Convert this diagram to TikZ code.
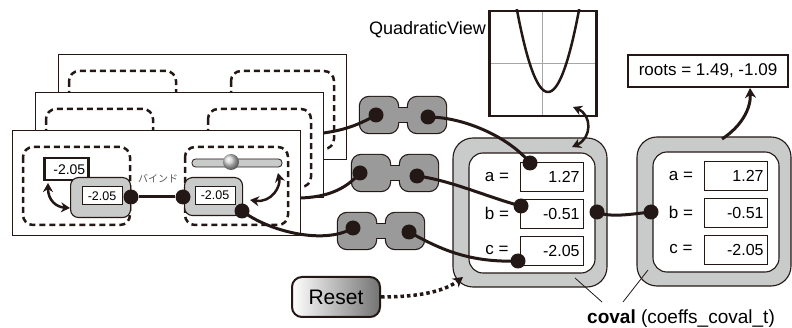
\documentclass[tikz,border=0pt]{standalone}
\usepackage{fontspec}
\setmainfont{Liberation Sans}
\newfontfamily\jpfont{Noto Sans CJK JP}
\usetikzlibrary{arrows.meta}
\definecolor{ink}{HTML}{231815}
\definecolor{widgetgray}{HTML}{C9CACA}
\definecolor{plugray}{HTML}{9A9A9A}
\newcommand{\fsz}[1]{\fontsize{#1}{#1}\selectfont}
\newcommand{\drawpanel}[2]{%
  \draw[panel] (#1,#2) rectangle ++(288,105);
  \draw[dashbox] (#1+11,#2+17) rectangle ++(107,78);
  \draw[dashbox] (#1+173,#2+17) rectangle ++(103,78);
}
\newcommand{\drawcoupler}[2]{%
  \path[draw=ink, line width=2.4pt, rounded corners=9pt] (#1,#2) rectangle ++(38,36) (#1+48,#2) rectangle ++(38,36);
  \path[draw=ink, line width=2.4pt] (#1+30,#2+11) rectangle ++(26,14);
  \path[fill=plugray, rounded corners=9pt] (#1,#2) rectangle ++(38,36) (#1+48,#2) rectangle ++(38,36);
  \path[fill=plugray] (#1+30,#2+11) rectangle ++(26,14);
}
\newcommand{\drawcoval}[3]{%
  \draw[outerbox] (#2,#3) rectangle ++(154,149);
  \draw[innerbox] (#2+16,#3+15) rectangle ++(126,120);
  \node[rowlabel] (#1-al) at (#2+44,#3+39) {a =};
  \node[rowlabel] (#1-bl) at (#2+44,#3+75) {b =};
  \node[rowlabel] (#1-cl) at (#2+44,#3+112) {c =};
  \node[valbox] (#1-av) at (#2+67,#3+24) {1.27};
  \node[valbox] (#1-bv) at (#2+67,#3+61) {-0.51};
  \node[valbox] (#1-cv) at (#2+67,#3+98) {-2.05};
}

\begin{document}
\begin{tikzpicture}[x=1pt, y=-1pt,
  panel/.style={draw=ink, line width=0.9pt, fill=white},
  dashbox/.style={draw=ink, line width=2.5pt, dash pattern=on 6pt off 4pt, rounded corners=10pt},
  outerbox/.style={draw=ink, line width=1.1pt, fill=widgetgray, rounded corners=20pt},
  innerbox/.style={draw=ink, line width=1.1pt, fill=white, rounded corners=14pt},
  rowlabel/.style={font=\fsz{17}, inner sep=0pt},
  valbox/.style={draw=ink, line width=1.1pt, fill=white, anchor=north west, text width=55pt, align=right, inner sep=4pt, minimum height=29pt, font=\fsz{16}},
  smallval/.style={draw=ink, line width=1pt, fill=white, minimum width=40pt, minimum height=18pt, inner sep=1pt, font=\fsz{12.5}},
  widget/.style={draw=ink, line width=1.1pt, fill=widgetgray, rounded corners=8pt, anchor=north west},
  jack/.style={circle, fill=ink, inner sep=0pt, minimum size=15pt},
  cable/.style={draw=ink, line width=3pt},
  twoway/.style={draw=ink, line width=2.5pt, {Stealth[length=9pt,width=10pt]}-{Stealth[length=9pt,width=10pt]}},
  oneway/.style={draw=ink, line width=3pt, -{Stealth[length=10pt,width=11pt]}},
  leader/.style={draw=ink, line width=0.8pt}]
\useasboundingbox (0,0) rectangle (792,328);

\drawcoupler{360}{97}
\node[jack] (c1l) at (376,115) {};
\node[jack] (c1r) at (428,117) {};
\drawcoupler{352}{155}
\node[jack] (c2l) at (360,173) {};
\node[jack] (c2r) at (417,176) {};
\drawcoupler{338}{213}
\node[jack] (c3l) at (353,228) {};
\node[jack] (c3r) at (409,232) {};

\drawcoval{q}{453}{138}
\drawcoval{r}{637}{137}
\node[jack] (qa) at (530,163) {};
\node[jack] (qb) at (521,206) {};
\node[jack] (qc) at (518,261) {};
\node[jack] (qout) at (597,212) {};
\node[jack] (rin) at (651,212) {};

\drawpanel{58}{54}
\coordinate (p3out) at (315,134);
\draw[cable] (p3out) .. controls (345,131) and (360,124) .. (c1l.center);
\drawpanel{35}{92}
\coordinate (p2out) at (290,198);
\draw[cable] (p2out) .. controls (325,199) and (345,190) .. (c2l.center);
\drawpanel{12}{130}

\node[draw=ink, line width=2.5pt, fill=white, anchor=north west, text width=38pt, align=right, inner sep=3pt, minimum height=22pt, font=\fsz{14}] (tb) at (43,157) {-2.05};
\node[widget, minimum width=60pt, minimum height=40pt] (wl) at (70,177) {};
\node[smallval] (wlv) at (102,196) {-2.05};
\node[widget, minimum width=58pt, minimum height=38pt] (wr) at (184,177) {};
\node[smallval] (wrv) at (215,195.5) {-2.05};
\draw[draw=ink, line width=0.8pt, fill=widgetgray, rounded corners=3.5pt] (192,159) rectangle (282,167);
\node[circle, inner sep=0pt, minimum size=16pt, ball color=gray!35] (knob) at (231,162) {};
\node[jack] (wldot) at (131,197) {};
\node[jack] (wmdot) at (183,197) {};
\node[jack] (wrdot) at (242,211) {};
\draw[cable] (wldot) -- (wmdot);
\node[font=\jpfont\fsz{10}, text=black!65] (bindlabel) at (158,179) {バインド};
\coordinate (tbfoot) at (48,183);
\coordinate (wlside) at (70,208);
\draw[twoway] (tbfoot) .. controls (48,200) and (56,207) .. (wlside);
\coordinate (wrside) at (250,200);
\coordinate (slidertip) at (278,173);
\draw[twoway] (wrside) .. controls (272,203) and (281,186) .. (slidertip);
\draw[cable] (wrdot.center) .. controls (270,232) and (325,245) .. (c3l.center);

\draw[cable] (c1r.center) .. controls (465,117) and (510,138) .. (qa.center);
\draw[cable] (c2r.center) .. controls (450,180) and (490,198) .. (qb.center);
\draw[cable] (c3r.center) .. controls (435,246) and (465,263) .. (qc.center);
\draw[cable] (qout.center) .. controls (610,218) and (632,214) .. (rin.center);

\begin{scope}
\clip (488,10) rectangle (595,115);
\draw[gray!70, line width=0.8pt] (542,10) -- (542,115) (488,63) -- (595,63);
\draw[ink, line width=2.5pt] plot[domain=-33:33, samples=60] ({548+\x},{92-0.0853*\x*\x});
\end{scope}
\node[draw=ink, line width=2.5pt, anchor=north west, minimum width=107pt, minimum height=105pt] (qview) at (488,10) {};
\node[anchor=base east, font=\fsz{18}, inner sep=1pt] (qvlabel) at (487,35) {QuadraticView};
\coordinate (qvtip) at (573,107);
\coordinate (covaltip) at (572,147);
\draw[twoway] (qvtip) .. controls (592,115) and (592,138) .. (covaltip);

\node[draw=ink, line width=1.1pt, fill=white, minimum width=160pt, minimum height=32pt, font=\fsz{17}] (roots) at (708,71) {roots = 1.49, -1.09};
\coordinate (rtop) at (722,139);
\coordinate (rootstip) at (750,88);
\draw[oneway] (rtop) .. controls (742,126) and (751,108) .. (rootstip);

\node[draw=ink, line width=2pt, rounded corners=10pt, left color=white, right color=black!55, minimum width=88pt, minimum height=40pt, font=\fsz{21}] (reset) at (336,297) {Reset};
\coordinate (resettip) at (463,277);
\draw[draw=ink, line width=3.5pt, dash pattern=on 3.5pt off 3pt, -{Stealth[length=10pt,width=11pt]}] (reset.east) .. controls (420,297) and (445,291) .. (resettip);

\node[anchor=base west, font=\fsz{19}, inner sep=0pt] (covallabel) at (587,324) {\textbf{coval} (coeffs\_coval\_t)};
\coordinate (lead1a) at (575,278);
\coordinate (lead1b) at (602,302);
\coordinate (lead2a) at (648,270);
\coordinate (lead2b) at (623,302);
\draw[leader] (lead1a) -- (lead1b);
\draw[leader] (lead2a) -- (lead2b);
\end{tikzpicture}
\end{document}
